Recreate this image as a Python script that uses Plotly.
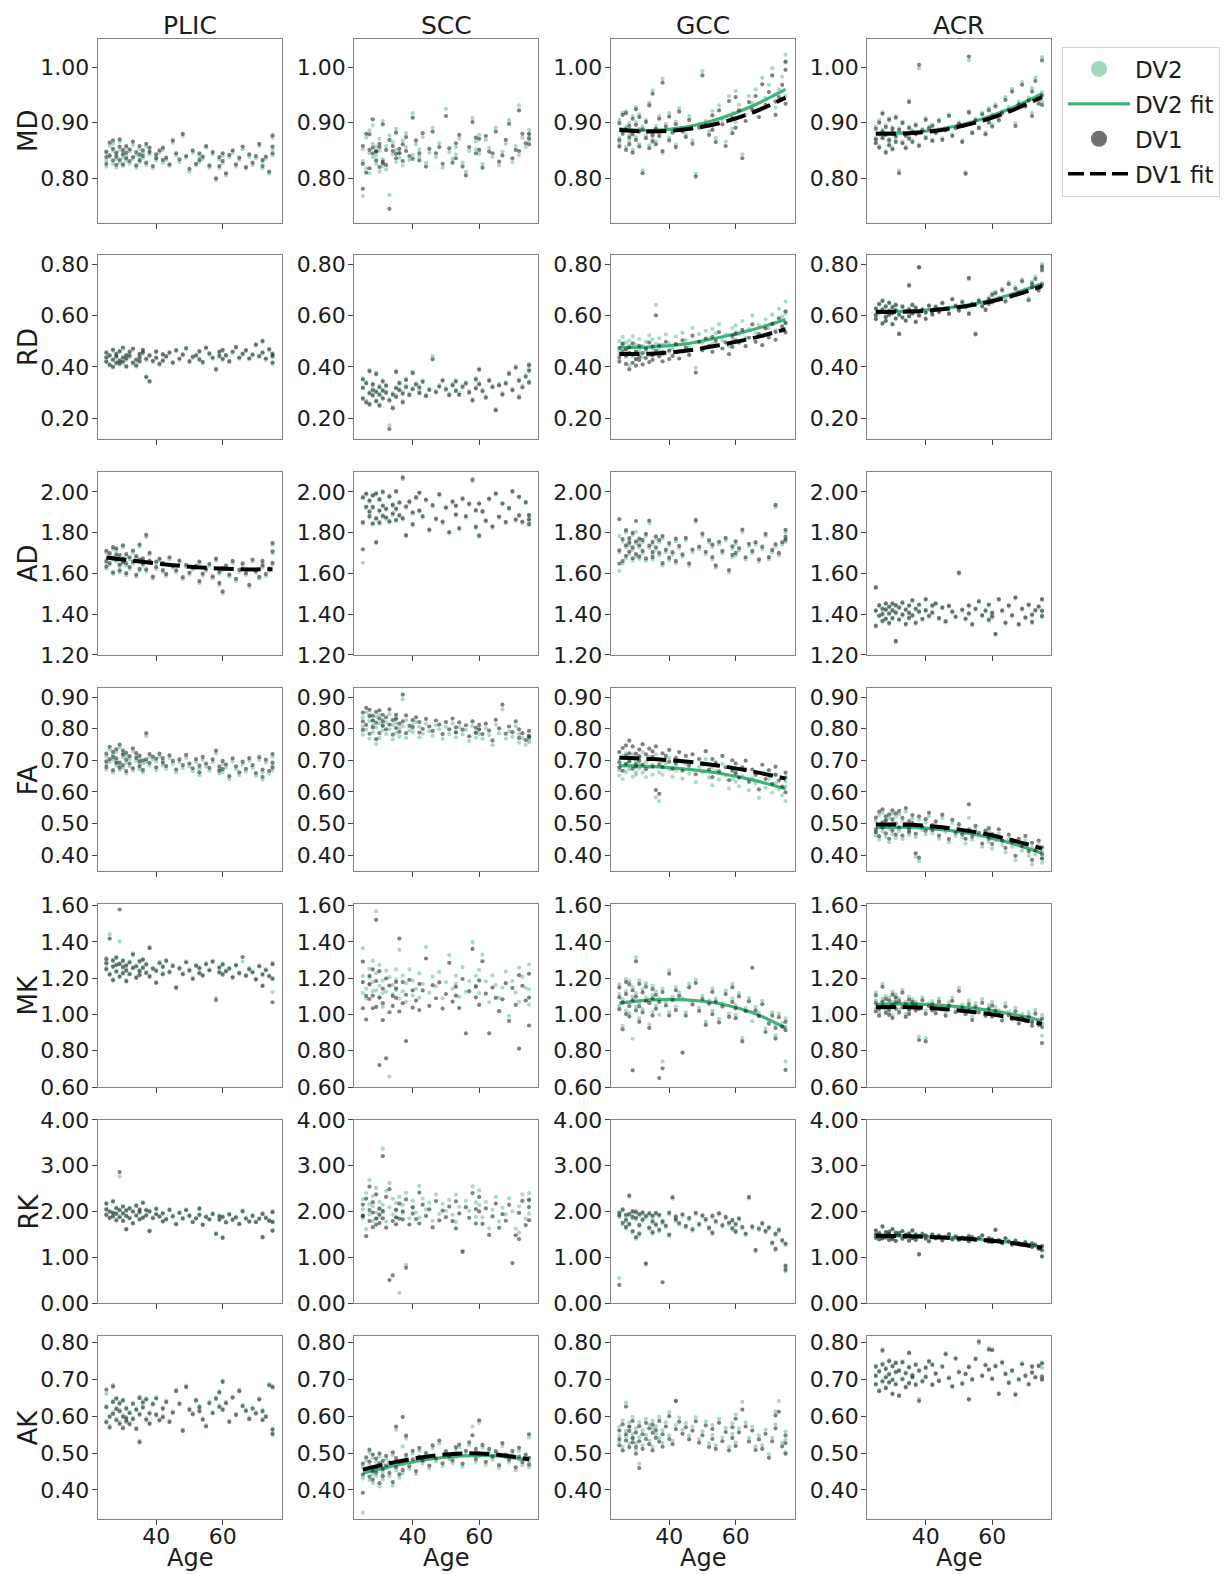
import plotly.graph_objects as go

# ---------------------------------------------------------------------------
# Subjects' ages (shared by every panel)
# ---------------------------------------------------------------------------
AGE = [
    25, 25, 25, 26, 26, 27, 27, 27, 28, 28,
    28, 29, 29, 29, 30, 30, 30, 31, 31, 31,
    32, 32, 33, 33, 34, 34, 35, 35, 35, 36,
    36, 37, 37, 38, 38, 39, 40, 40, 41, 42,
    42, 43, 44, 45, 46, 47, 48, 49, 50, 51,
    52, 53, 53, 54, 55, 56, 57, 58, 59, 59,
    60, 60, 61, 62, 63, 64, 65, 66, 67, 68,
    69, 70, 71, 72, 72, 73, 74, 75, 75, 75,
]

METRICS = ["MD", "RD", "AD", "FA", "MK", "RK", "AK"]
REGIONS = ["PLIC", "SCC", "GCC", "ACR"]
X_TICKS = [40, 60]

# Per-subject values, stored in thousandths of the metric's unit
# ---------------------------- MD ------------------------------------------
MD_PLIC_DV2 = [832,845,821,858,838,826,849,862,835,819, 843,851,828,866,837,822,846,855,831,840,
               848,826,860,835,842,819,853,838,829,845, 836,857,824,843,850,818,839,832,846,828,
               851,833,822,864,841,829,876,837,812,846, 823,840,829,835,855,819,843,796,834,818,
               827,841,805,838,846,821,833,852,817,839, 824,836,858,829,818,835,808,852,873,841]
MD_PLIC_DV1 = [838,848,826,864,841,832,853,868,839,824, 846,857,833,870,843,825,851,858,836,846,
               852,831,866,838,847,823,858,843,832,850, 840,862,828,847,855,822,843,836,850,833,
               855,837,825,868,845,834,880,840,817,850, 826,845,833,839,858,823,847,800,838,822,
               831,845,809,842,850,825,837,857,820,843, 828,840,862,833,822,839,812,857,877,845]
MD_SCC_DV2 = [768,852,831,873,818,845,886,809,862,838, 895,826,857,841,871,812,849,834,903,822,
              858,816,877,770,843,865,829,851,889,837, 846,868,823,856,881,833,842,917,861,839,
              852,874,828,846,891,838,863,819,925,847, 835,856,843,871,828,812,849,908,866,852,
              878,844,826,869,855,838,891,823,848,862, 905,829,858,842,931,873,856,868,887,879]
MD_SCC_DV1 = [781,858,826,880,810,851,879,818,855,845, 906,832,849,848,862,820,856,827,897,830,
              851,824,869,745,849,858,836,844,882,845, 853,861,831,849,874,840,835,909,868,832,
              845,881,821,853,884,845,856,826,912,854, 828,863,836,878,821,805,856,901,873,845,
              871,851,819,876,848,845,884,830,841,869, 898,836,851,849,922,880,863,861,880,872]
MD_GCC_DV2 = [872,905,861,918,884,893,856,921,878,899, 866,912,883,851,901,874,928,889,862,915,
              814,893,877,905,859,936,882,870,958,894, 866,912,881,979,845,898,873,917,887,902,
              861,926,890,879,912,868,808,897,993,903, 885,921,894,872,931,905,866,948,917,889,
              957,901,932,843,914,948,935,960,922,981, 944,968,998,951,927,960,983,1022,948,1008]
MD_GCC_DV1 = [868,899,857,914,880,888,851,917,873,894, 861,907,879,846,896,869,924,884,857,910,
              809,888,872,901,854,931,877,866,952,889, 861,907,876,972,849,893,868,911,882,897,
              856,920,884,874,905,862,803,891,985,896, 878,913,887,865,922,897,858,939,908,881,
              946,891,922,836,903,937,924,948,910,969, 932,955,985,938,914,946,968,1010,934,995]
MD_ACR_DV2 = [866,893,872,904,858,887,919,875,849,896, 881,862,908,871,892,855,885,912,868,878,
              814,890,866,902,879,857,893,940,874,886, 868,898,882,998,861,889,875,908,893,870,
              897,884,906,872,889,915,879,893,901,868, 811,1012,921,884,907,893,918,882,926,904,
              915,897,933,908,921,946,928,961,899,938, 973,934,945,962,918,981,940,1018,955,938]
MD_ACR_DV1 = [863,889,870,900,855,884,916,872,846,892, 878,859,905,868,889,852,882,909,865,875,
              809,887,863,899,876,854,890,937,871,883, 865,895,879,1004,858,886,872,905,890,867,
              894,881,903,869,886,912,876,890,898,865, 808,1019,918,881,904,890,915,879,922,900,
              911,893,929,904,917,941,923,956,894,933, 968,929,940,956,912,975,934,1012,949,932]
# ---------------------------- RD ------------------------------------------
RD_PLIC_DV2 = [432,418,451,405,440,425,463,397,436,412, 447,421,458,409,433,471,416,442,398,428,
               439,455,412,467,424,401,446,433,418,452, 462,358,427,341,441,419,456,432,408,445,
               421,437,452,413,461,428,444,469,418,435, 441,426,457,415,471,448,432,387,455,439,
               462,427,441,418,455,473,432,447,461,429, 444,483,438,452,497,428,465,447,412,438]
RD_PLIC_DV1 = [438,421,457,409,446,429,468,401,441,417, 452,426,462,414,438,476,421,447,403,433,
               444,460,417,472,429,406,451,438,423,457, 467,362,432,345,446,424,461,437,413,450,
               426,442,457,418,466,433,449,474,423,440, 446,431,462,420,476,453,437,392,460,444,
               467,432,446,423,460,478,437,452,466,434, 449,488,443,457,502,433,470,452,417,443]
RD_SCC_DV2 = [322,281,357,268,341,302,389,259,315,293, 336,271,308,378,254,327,296,349,283,312,
              305,331,275,172,298,245,322,386,289,314, 341,302,268,327,355,296,318,382,337,304,
              325,348,292,316,442,307,329,352,318,296, 334,312,349,297,328,341,306,275,357,322,
              395,338,311,286,352,327,236,334,298,341, 379,315,403,287,352,326,368,345,391,412]
RD_SCC_DV1 = [318,276,351,262,336,297,383,253,309,288, 331,266,302,372,249,321,291,343,277,307,
              299,326,269,158,292,239,317,380,283,309, 336,296,262,321,349,290,313,376,331,298,
              319,342,286,310,430,301,323,346,312,290, 328,306,343,291,322,335,300,269,351,316,
              389,332,305,280,346,321,231,328,292,335, 373,309,397,281,346,320,362,339,385,406]
RD_GCC_DV2 = [462,501,448,489,517,471,439,495,405,482, 503,442,476,519,458,487,431,466,509,454,
              481,437,498,462,523,446,472,507,455,491, 642,468,512,449,486,527,459,493,471,518,
              488,462,533,505,476,552,397,528,494,541, 512,548,489,531,567,503,526,481,552,509,
              537,562,528,579,514,548,601,532,563,519, 586,551,604,572,543,627,596,655,572,609]
RD_GCC_DV1 = [436,474,421,462,491,445,412,468,391,455, 476,416,449,492,431,460,405,440,482,427,
              454,410,471,435,495,419,445,480,428,463, 601,441,484,422,458,498,431,465,443,489,
              459,433,504,476,447,522,378,498,465,511, 482,517,459,501,536,472,495,450,521,478,
              504,529,495,545,481,514,566,498,528,485, 550,515,568,536,506,590,558,617,534,571]
RD_ACR_DV2 = [604,631,589,648,615,572,627,661,598,639, 582,621,653,607,569,636,612,645,591,624,
              607,532,638,596,619,583,722,628,601,645, 612,579,634,787,603,627,591,615,642,622,
              608,637,618,652,629,611,668,641,623,657, 638,741,612,649,532,664,641,627,671,652,
              688,659,694,671,706,662,731,684,712,695, 742,703,668,733,718,752,706,801,728,786]
RD_ACR_DV1 = [601,627,586,644,612,569,623,657,594,635, 579,618,649,603,566,632,609,641,588,620,
              603,528,634,592,616,580,717,624,597,641, 608,575,630,789,600,623,587,611,638,618,
              604,633,614,648,625,607,663,637,619,652, 633,747,607,644,527,658,636,622,665,646,
              681,652,687,664,699,655,723,677,704,688, 734,695,660,725,710,743,698,791,720,777]
# ---------------------------- AD ------------------------------------------
AD_PLIC_DV2 = [1652,1701,1623,1688,1641,1719,1667,1596,1683,1658, 1712,1634,1679,1605,1662,1728,1647,1591,1685,1639,
               1669,1621,1702,1648,1583,1675,1658,1731,1612,1664, 1637,1778,1609,1653,1692,1574,1648,1621,1663,1606,
               1642,1587,1669,1627,1605,1653,1571,1632,1594,1618, 1627,1552,1648,1589,1611,1636,1575,1662,1598,1543,
               1617,1501,1628,1584,1651,1563,1608,1639,1592,1534, 1658,1602,1573,1629,1651,1587,1613,1642,1698,1739]
AD_PLIC_DV1 = [1661,1711,1633,1699,1650,1729,1677,1605,1693,1668, 1722,1643,1690,1615,1672,1738,1656,1601,1695,1649,
               1679,1631,1712,1657,1593,1684,1668,1741,1622,1673, 1647,1789,1619,1663,1701,1584,1658,1631,1672,1616,
               1652,1597,1679,1637,1615,1663,1581,1642,1604,1628, 1637,1562,1658,1599,1621,1646,1585,1672,1608,1553,
               1627,1511,1638,1594,1661,1573,1618,1649,1602,1544, 1668,1612,1583,1639,1661,1597,1623,1652,1708,1749]
AD_SCC_DV2 = [1652,1968,1843,1921,1986,1874,1952,1897,1839,1978, 1919,1756,1864,1987,1902,1843,1958,1876,1927,1995,
              1868,1912,1849,1973,1887,1931,1856,1998,1912,1879, 1943,1864,2062,1922,1781,1947,1893,1835,1968,1902,
              1991,1874,1956,1808,1929,1862,1983,1847,1918,1796, 1947,1883,1927,1815,1962,1874,1936,2051,1822,1905,
              1938,1779,1899,1853,1961,1824,1987,1872,1938,1846, 1915,1998,1858,1879,1971,1847,1944,1836,1881,1859]
AD_SCC_DV1 = [1718,1974,1851,1928,1992,1881,1958,1904,1846,1984, 1926,1751,1871,1993,1909,1850,1964,1883,1933,2001,
              1875,1918,1856,1979,1894,1937,1863,2004,1918,1886, 1949,1871,2071,1929,1788,1953,1900,1842,1974,1909,
              1997,1881,1962,1815,1935,1869,1989,1854,1924,1803, 1953,1890,1933,1822,1968,1881,1942,2061,1829,1911,
              1944,1786,1905,1860,1967,1831,1993,1879,1944,1853, 1921,2004,1865,1886,1977,1854,1950,1843,1887,1866]
AD_GCC_DV2 = [1612,1783,1702,1756,1648,1801,1727,1674,1762,1695, 1739,1662,1788,1715,1683,1746,1804,1671,1727,1759,
              1698,1752,1661,1783,1724,1847,1693,1742,1668,1771, 1716,1689,1752,1638,1771,1704,1665,1737,1692,1758,
              1649,1723,1681,1762,1637,1705,1853,1719,1783,1694, 1751,1668,1729,1627,1743,1698,1762,1604,1721,1679,
              1745,1688,1712,1803,1667,1733,1698,1741,1657,1719, 1782,1668,1703,1731,1925,1688,1741,1768,1802,1753]
AD_GCC_DV1 = [1648,1866,1713,1768,1660,1812,1738,1686,1773,1707, 1751,1674,1799,1727,1695,1757,1857,1683,1738,1771,
              1710,1764,1673,1794,1736,1859,1705,1754,1680,1782, 1728,1701,1764,1650,1783,1716,1677,1749,1704,1770,
              1661,1735,1693,1774,1649,1717,1862,1731,1795,1706, 1763,1680,1741,1639,1755,1710,1774,1616,1733,1691,
              1757,1700,1724,1815,1679,1745,1710,1753,1669,1731, 1794,1680,1715,1743,1936,1700,1753,1780,1814,1765]
AD_ACR_DV2 = [1338,1412,1526,1387,1438,1362,1421,1395,1448,1372, 1417,1351,1432,1398,1446,1375,1413,1262,1439,1402,
              1427,1368,1451,1392,1417,1346,1438,1401,1376,1463, 1389,1421,1352,1442,1407,1371,1468,1413,1386,1437,
              1402,1448,1375,1427,1359,1436,1407,1382,1597,1416, 1372,1437,1398,1345,1421,1458,1389,1412,1367,1441,
              1401,1383,1298,1468,1412,1352,1437,1389,1476,1345, 1421,1378,1441,1392,1356,1414,1432,1385,1468,1411]
AD_ACR_DV1 = [1343,1418,1532,1393,1444,1367,1427,1401,1453,1378, 1423,1357,1437,1404,1452,1381,1419,1268,1444,1408,
              1433,1374,1457,1398,1423,1352,1443,1407,1382,1469, 1395,1427,1358,1447,1413,1377,1474,1419,1392,1443,
              1408,1453,1381,1433,1365,1441,1413,1388,1603,1422, 1378,1443,1404,1351,1427,1464,1395,1418,1373,1447,
              1407,1389,1303,1474,1418,1358,1443,1395,1482,1351, 1427,1384,1447,1398,1362,1420,1438,1391,1474,1417]
# ---------------------------- FA ------------------------------------------
FA_PLIC_DV2 = [688,712,671,734,695,661,718,702,683,726, 697,669,741,684,709,676,722,693,658,715,
               704,681,729,667,698,714,688,672,706,691, 662,777,694,711,683,703,669,696,712,684,
               698,673,707,689,662,694,676,708,681,666, 695,674,653,702,681,667,694,722,671,658,
               689,663,678,641,697,672,653,687,664,698, 676,651,701,662,639,693,658,711,684,668]
FA_PLIC_DV1 = [697,721,679,743,704,669,727,711,692,735, 706,677,750,693,718,685,731,702,666,724,
               713,690,738,675,707,723,697,681,715,700, 670,786,703,720,692,712,678,705,721,693,
               707,682,716,698,671,703,685,717,690,675, 704,683,662,711,690,676,703,731,680,667,
               698,672,687,650,706,681,662,696,673,707, 685,660,710,671,648,702,667,720,693,677]
FA_SCC_DV2 = [808,836,781,852,797,824,769,845,811,789, 826,752,838,804,817,771,843,795,829,808,
              783,821,798,846,766,812,829,787,817,801, 775,893,808,771,827,794,812,789,821,773,
              806,784,816,792,778,811,798,768,806,783, 817,789,773,805,782,796,761,808,788,772,
              783,797,768,801,779,748,813,786,861,769, 792,774,808,756,783,771,749,778,757,762]
FA_SCC_DV1 = [823,851,796,866,812,839,784,860,826,804, 841,767,853,819,832,786,858,810,844,823,
              798,836,813,861,781,827,844,802,832,816, 790,908,823,786,842,809,827,804,836,788,
              821,799,831,807,793,826,813,783,821,798, 832,804,788,820,797,811,776,823,803,787,
              798,812,783,816,794,763,828,801,876,784, 807,789,823,771,798,786,764,793,772,777]
FA_GCC_DV2 = [652,701,668,714,641,689,722,663,697,672, 708,648,683,719,662,696,655,709,674,688,
              726,661,694,647,712,678,703,655,686,719, 583,662,571,697,654,689,671,708,648,683,
              667,701,642,689,658,694,631,679,662,704, 645,678,621,667,639,688,652,611,674,641,
              632,663,618,651,672,605,644,627,581,659, 613,641,598,627,652,608,589,633,571,617]
FA_GCC_DV1 = [677,726,693,739,667,714,747,688,722,697, 762,673,708,744,687,721,680,734,699,713,
              751,686,719,672,737,703,728,680,711,744, 606,687,594,722,679,714,696,733,673,708,
              692,726,667,714,683,719,656,704,687,729, 671,704,647,693,665,714,678,637,700,667,
              659,690,645,678,699,632,671,654,608,686, 641,669,626,655,680,636,617,661,599,645]
FA_ACR_DV2 = [462,508,471,527,449,493,534,476,512,458, 499,441,518,483,531,467,502,454,521,489,
              476,529,451,507,488,538,463,497,472,516, 491,457,395,512,381,479,503,466,523,484,
              469,497,452,518,474,441,502,461,488,456, 437,472,518,449,483,461,427,468,442,476,
              453,421,447,468,432,409,451,427,384,438, 414,447,398,425,371,402,432,389,411,376]
FA_ACR_DV1 = [473,519,482,538,460,504,545,487,523,469, 510,452,529,494,542,478,513,465,532,500,
              487,540,462,518,499,549,474,508,483,527, 502,468,406,523,392,490,514,477,534,495,
              479,507,462,528,484,451,512,471,498,466, 452,482,561,459,493,471,437,478,452,486,
              467,435,461,482,446,423,465,441,398,452, 428,461,412,439,385,416,446,403,425,390]
# ---------------------------- MK ------------------------------------------
MK_PLIC_DV2 = [1287,1256,1311,1226,1442,1268,1195,1302,1241,1278, 1319,1402,1283,1214,1266,1301,1232,1189,1275,1248,
               1293,1227,1262,1336,1208,1271,1244,1298,1223,1262, 1307,1235,1281,1372,1214,1258,1179,1246,1289,1227,
               1268,1301,1239,1273,1152,1259,1227,1293,1248,1201, 1274,1232,1261,1219,1283,1248,1297,1093,1237,1264,
               1226,1281,1243,1258,1209,1276,1232,1291,1218,1255, 1237,1198,1271,1225,1162,1249,1216,1284,1123,1201]
MK_PLIC_DV1 = [1281,1248,1304,1219,1418,1262,1188,1295,1235,1271, 1312,1578,1277,1207,1259,1294,1226,1182,1269,1241,
               1286,1221,1255,1329,1201,1264,1238,1291,1216,1256, 1301,1228,1274,1365,1208,1251,1173,1239,1282,1221,
               1261,1294,1232,1266,1146,1252,1221,1286,1241,1195, 1267,1226,1254,1213,1276,1242,1290,1079,1231,1257,
               1219,1274,1237,1251,1203,1269,1226,1316,1212,1248, 1231,1192,1264,1219,1156,1243,1210,1277,1067,1195]
MK_SCC_DV2 = [1118,1212,1365,1142,1087,1251,1164,1203,1128,1296, 1179,1568,1132,1227,1094,1158,1273,1118,1186,1042,
              1241,1126,1205,658,1163,1112,1248,1134,1192,1087, 1356,1128,1214,1069,1172,1248,1103,1186,1141,1226,
              1093,1168,1372,1119,1208,1154,1234,1089,1178,1327, 1142,1213,1168,1098,1261,1125,1184,1398,1213,1157,
              1246,1118,1329,1182,1067,1214,1162,1093,1148,1236, 992,1183,1121,1069,1258,1207,1147,1275,1054,1138]
MK_SCC_DV1 = [1034,1178,1291,1102,972,1213,1085,1167,1034,1248, 1103,1521,1041,1184,721,1093,1238,1062,1142,968,
              1198,758,1159,1012,1101,1047,1179,1091,1144,1016, 1418,1062,1178,853,1108,1191,1037,1132,1076,1168,
              1024,1132,1308,1047,1161,1089,1176,1032,1112,1284, 1071,1152,1103,1035,1195,895,1128,1361,1153,1094,
              1187,1052,1293,1114,896,1148,1091,1018,1083,1172, 964,1146,1052,811,1216,1158,1076,1224,939,1093]
MK_GCC_DV2 = [1112,1048,1165,937,1083,1196,1021,1129,1064,1183, 1007,1098,866,1152,1314,1041,1117,978,1187,1063,
              1139,1029,1094,1172,944,1081,1158,1013,1107,1049, 1126,998,1088,1142,741,1067,1243,1013,1098,1152,
              1043,1121,1087,1012,1168,1073,1192,1038,1104,961, 1078,1143,1019,1089,975,1062,1131,1004,1087,1168,
              1052,998,1118,869,1037,1091,963,1042,1009,1075, 923,968,1012,944,885,1004,952,932,741,978]
MK_GCC_DV1 = [1094,1029,1148,918,1066,1178,1002,1112,1045,1165, 988,1079,692,1133,1293,1022,1098,959,1168,1044,
              1121,1011,1075,1153,925,1062,1139,994,1088,1031, 1107,649,1069,1123,703,1049,1224,994,1079,1133,
              1024,1102,789,993,1149,1054,1173,1019,1085,942, 1059,1124,1001,1071,956,1043,1112,986,1069,1149,
              1033,979,1099,851,1018,1072,1257,1023,991,1056, 903,949,993,925,867,985,933,913,694,959]
MK_ACR_DV2 = [1032,1078,1121,1046,1009,1168,1063,1087,1024,1101, 1058,1013,1092,1041,1125,1069,996,1083,1047,1110,
              1027,1089,1054,1136,1002,1071,1043,1098,1018,1063, 1085,1037,1072,878,1046,1094,1019,869,1061,1038,
              1073,1025,1089,1047,1012,1068,1094,1031,1148,1056, 1021,1077,1042,989,1063,1031,1084,1012,1052,1027,
              1069,1008,1041,1022,987,1064,1016,995,1038,971, 1003,986,1011,958,979,1025,962,997,883,951]
MK_ACR_DV1 = [1016,1062,1105,1030,993,1152,1047,1071,1008,1085, 1042,997,1076,1025,1109,1053,980,1067,1031,1094,
              1011,1073,1038,1120,986,1055,1027,1082,1002,1047, 1069,1021,1056,859,1030,1078,1003,851,1045,1022,
              1055,1006,1070,1028,993,1049,1075,1012,1129,1037, 1001,1057,1022,969,1043,1011,1064,992,1032,1007,
              1048,987,1020,1001,966,1043,995,974,1017,950, 982,965,990,937,958,1004,941,976,842,930]
# ---------------------------- RK ------------------------------------------
RK_PLIC_DV2 = [2061,1942,2187,1875,2014,2236,1908,1986,2092,1823, 1967,2763,1894,2048,1812,2125,1973,1628,2039,1918,
               2084,1871,2012,1759,2143,1926,2057,1843,1998,2207, 1882,2046,1931,1589,2018,1872,1954,2075,1903,1798,
               1976,1847,2052,1911,1738,1986,1862,2047,1923,1784, 1864,1941,2078,1726,1897,1842,1963,1528,1915,1837,
               1442,1896,1781,1952,1836,1887,1743,2023,1862,1795, 1921,1784,1856,1963,1452,1878,1813,2007,1598,1786]
RK_PLIC_DV1 = [2042,1921,2168,1856,1994,2217,1889,1967,2071,1804, 1948,2861,1875,2027,1793,2104,1954,1609,2018,1899,
               2063,1852,1993,1740,2122,1907,2036,1824,1979,2186, 1863,2025,1912,1570,1997,1853,1935,2054,1884,1779,
               1955,1828,2031,1892,1719,1965,1843,2026,1904,1765, 1845,1922,2057,1707,1878,1823,1942,1509,1896,1818,
               1423,1877,1762,1931,1817,1868,1724,2002,1843,1776, 1900,1765,1837,1942,1433,1857,1794,1986,1579,1767]
RK_SCC_DV2 = [1853,2271,2048,1617,2402,1936,2159,2683,1792,2114, 2336,1978,2515,1841,2208,2062,1893,3372,2147,1986,
              2453,1782,2091,2624,1938,2276,2012,1867,2188,223, 2318,1962,2142,834,2407,1851,2236,2091,1978,2559,
              1873,2284,2046,2193,1798,2372,1947,2163,2014,2252, 1928,2367,1773,2104,1149,2235,2012,2547,1881,2198,
              2143,2461,1872,2209,1632,2037,2318,1784,2085,1937, 2288,2006,1628,1543,2113,2372,1847,2401,2237,1953]
RK_SCC_DV1 = [1912,2152,1897,1462,2281,1793,2031,2544,1658,1978, 2203,1846,2372,1713,2062,1935,1748,3208,2013,1851,
              2318,1647,502,2487,1793,604,1874,1721,2042,1845, 2171,1828,2005,771,2263,1716,2092,1953,1834,2413,
              1738,2148,1903,2047,1652,2228,1806,2021,1876,2107, 1792,2223,1631,1958,1117,2094,1863,2402,1738,2054,
              2001,2318,1729,2068,1488,1893,2174,1643,1942,1798, 2146,874,1482,1397,1968,2231,1703,2258,2096,1809]
RK_GCC_DV2 = [1879,548,1942,1716,2012,1628,1893,1784,2317,1695, 1912,1538,1847,1972,1403,1826,1961,1672,1908,1485,
              1791,1943,833,1868,1614,1927,1752,1876,1513,1934, 1684,1893,1568,1802,1741,1657,1938,1462,2276,1789,
              1856,1713,1902,1648,1824,1578,1937,1692,1881,1796, 1612,1873,1504,1757,1928,1668,1845,1719,1603,1781,
              1697,1534,1816,1628,1484,2282,1639,1127,1594,1712, 1543,1618,1287,1479,1152,1568,1342,784,1265,693]
RK_GCC_DV1 = [1912,398,1978,1752,2048,1663,1929,1820,2352,1731, 1948,1574,1883,2008,1439,1862,1997,1708,1944,1521,
              1827,1979,869,1904,1650,1963,1788,1912,1549,1970, 1720,1929,1604,455,1777,1693,1974,1498,2312,1825,
              1892,1749,1938,1684,1860,1614,1973,1728,1917,1832, 1648,1909,1540,1793,1964,1704,1881,1755,1639,1817,
              1733,1570,1852,1664,1520,2318,1675,1163,1630,1748, 1579,1654,1323,1515,1188,1604,1378,820,1301,729]
RK_ACR_DV2 = [1512,1438,1596,1402,1537,1463,1683,1421,1558,1476, 1443,1571,1389,1518,1452,1624,1407,1493,1546,1368,
              1487,1539,1416,1582,1451,1503,1372,1528,1467,1594, 1431,1508,1392,1053,1476,1521,1418,1487,1362,1453,
              1509,1426,1482,1378,1447,1513,1401,1463,1392,1438, 1419,1472,1359,1448,1392,1431,1487,1374,1426,1351,
              1397,1342,1609,1383,1318,1427,1356,1289,1372,1314, 1287,1341,1258,1314,1236,1282,1197,1253,1166,1029]
RK_ACR_DV1 = [1498,1425,1583,1389,1524,1450,1669,1408,1545,1463, 1430,1558,1376,1505,1439,1611,1394,1480,1533,1355,
              1474,1526,1403,1569,1438,1490,1359,1515,1454,1581, 1418,1495,1379,1071,1463,1508,1405,1474,1349,1440,
              1496,1413,1469,1365,1434,1500,1388,1450,1379,1425, 1406,1459,1346,1435,1379,1418,1474,1361,1413,1338,
              1384,1329,1596,1370,1305,1414,1343,1276,1359,1301, 1274,1328,1245,1301,1223,1269,1184,1240,1153,1016]
# ---------------------------- AK ------------------------------------------
AK_PLIC_DV2 = [587,628,661,602,574,642,611,685,593,623, 651,584,617,638,571,603,646,589,624,598,
               612,582,637,596,569,621,653,533,608,641, 627,594,649,611,583,636,607,652,592,624,
               601,642,588,613,672,637,564,683,621,609, 646,628,617,594,576,639,612,651,668,629,
               697,621,639,588,654,607,672,631,618,596, 624,611,649,593,617,602,688,567,549,682]
AK_PLIC_DV1 = [583,624,672,598,569,638,606,680,589,619, 647,579,613,634,567,598,642,585,620,594,
               608,578,633,592,565,617,649,529,604,637, 623,590,645,607,579,632,603,648,588,620,
               597,638,584,609,668,633,560,679,617,605, 642,624,613,590,572,635,608,647,664,625,
               693,617,635,584,650,603,668,627,614,592, 620,607,645,589,613,598,684,563,552,678]
AK_SCC_DV2 = [338,462,431,479,448,501,427,468,442,487, 419,452,476,438,463,409,491,447,428,471,
              458,483,437,466,412,494,563,452,478,433, 469,518,446,539,487,456,475,498,443,482,
              506,471,492,458,513,477,526,464,497,483, 472,508,489,515,463,498,521,572,476,503,
              582,491,514,468,503,482,497,459,519,488, 474,498,453,482,506,467,488,542,461,479]
AK_SCC_DV1 = [392,471,441,488,457,509,436,477,451,496, 428,461,485,447,472,418,499,456,437,479,
              466,492,446,474,421,502,572,461,486,442, 477,598,454,547,495,464,483,506,451,490,
              514,479,500,466,521,485,534,472,505,491, 480,516,497,523,471,506,529,548,484,511,
              589,499,522,476,511,490,505,467,527,496, 482,506,461,490,514,475,496,551,469,487]
AK_GCC_DV2 = [548,572,531,589,517,637,561,544,583,526, 571,539,598,552,508,567,526,584,471,543,
              562,521,593,549,578,534,566,517,588,552, 573,541,598,527,562,583,548,611,534,576,
              642,596,563,581,547,572,597,538,559,586, 527,549,576,521,593,542,568,517,581,552,
              604,529,567,639,583,541,572,518,548,521, 563,497,542,578,613,641,528,559,503,537]
AK_GCC_DV1 = [538,561,521,578,507,626,551,534,572,516, 560,529,587,541,498,556,516,573,459,532,
              551,511,582,538,567,524,555,507,577,541, 562,531,587,517,551,572,538,600,524,565,
              641,585,552,570,537,561,586,528,548,575, 516,538,565,511,582,532,557,507,570,541,
              593,519,556,618,572,531,561,508,537,511, 552,487,532,567,602,612,518,548,498,527]
AK_ACR_DV2 = [689,712,738,671,724,782,697,743,708,679, 731,694,752,716,663,738,701,722,689,747,
              658,726,703,749,681,719,774,692,735,708, 713,688,742,647,726,697,734,709,751,688,
              742,718,698,737,771,706,683,759,722,691, 717,648,736,702,758,798,712,741,785,729,
              782,704,738,663,748,717,693,726,661,702, 744,712,689,737,721,708,739,702,747,731]
AK_ACR_DV1 = [686,709,734,668,721,778,694,740,705,676, 728,691,749,713,660,735,698,719,686,744,
              655,723,700,746,678,716,771,689,732,705, 710,685,739,641,723,694,731,706,748,685,
              739,715,695,734,768,703,680,756,719,688, 714,645,733,699,755,803,709,738,781,726,
              779,701,735,660,745,714,690,723,658,699, 741,709,686,734,718,705,736,699,743,708]

# Quadratic age fits, sampled at FIT_AGE (thousandths)
FIT_AGE = [25, 35, 45, 55, 65, 75]
MD_GCC_DV2_FIT = [889, 886, 892, 907, 930, 960]
MD_GCC_DV1_FIT = [887, 884, 888, 899, 918, 945]
MD_ACR_DV2_FIT = [881, 882, 889, 903, 924, 952]
MD_ACR_DV1_FIT = [880, 881, 887, 900, 920, 946]
RD_GCC_DV2_FIT = [477, 478, 490, 515, 545, 585]
RD_GCC_DV1_FIT = [451, 452, 463, 485, 512, 547]
RD_ACR_DV2_FIT = [617, 618, 628, 647, 680, 724]
RD_ACR_DV1_FIT = [615, 616, 625, 643, 673, 715]
AD_PLIC_DV1_FIT = [1678, 1658, 1640, 1627, 1620, 1620]
FA_GCC_DV2_FIT = [683, 680, 672, 659, 638, 610]
FA_GCC_DV1_FIT = [708, 704, 696, 683, 665, 642]
FA_ACR_DV2_FIT = [487, 488, 481, 466, 440, 406]
FA_ACR_DV1_FIT = [497, 496, 488, 473, 450, 421]
MK_GCC_DV2_FIT = [1062, 1080, 1080, 1060, 1010, 925]
MK_ACR_DV2_FIT = [1055, 1058, 1050, 1033, 1005, 965]
MK_ACR_DV1_FIT = [1040, 1040, 1030, 1012, 985, 948]
RK_ACR_DV2_FIT = [1480, 1470, 1440, 1400, 1330, 1220]
RK_ACR_DV1_FIT = [1470, 1460, 1430, 1390, 1320, 1210]
AK_SCC_DV2_FIT = [445, 467, 483, 492, 492, 481]
AK_SCC_DV1_FIT = [455, 476, 491, 499, 496, 483]

# Axis limits and ticks for each metric row
X_RANGE = [22.4, 77.7]
Y_RANGE = {"MD": [0.72, 1.05], "RD": [0.12, 0.835], "AD": [1.1995, 2.1],
           "FA": [0.35, 0.93], "MK": [0.5995, 1.61], "RK": [-0.002, 4.002],
           "AK": [0.32, 0.818]}
Y_TICKS = {"MD": [0.8, 0.9, 1.0], "RD": [0.2, 0.4, 0.6, 0.8],
           "AD": [1.2, 1.4, 1.6, 1.8, 2.0], "FA": [0.4, 0.5, 0.6, 0.7, 0.8, 0.9],
           "MK": [0.6, 0.8, 1.0, 1.2, 1.4, 1.6], "RK": [0, 1, 2, 3, 4],
           "AK": [0.4, 0.5, 0.6, 0.7, 0.8]}

POINTS = {
    ("MD", "PLIC"): (MD_PLIC_DV2, MD_PLIC_DV1), ("MD", "SCC"): (MD_SCC_DV2, MD_SCC_DV1),
    ("MD", "GCC"): (MD_GCC_DV2, MD_GCC_DV1), ("MD", "ACR"): (MD_ACR_DV2, MD_ACR_DV1),
    ("RD", "PLIC"): (RD_PLIC_DV2, RD_PLIC_DV1), ("RD", "SCC"): (RD_SCC_DV2, RD_SCC_DV1),
    ("RD", "GCC"): (RD_GCC_DV2, RD_GCC_DV1), ("RD", "ACR"): (RD_ACR_DV2, RD_ACR_DV1),
    ("AD", "PLIC"): (AD_PLIC_DV2, AD_PLIC_DV1), ("AD", "SCC"): (AD_SCC_DV2, AD_SCC_DV1),
    ("AD", "GCC"): (AD_GCC_DV2, AD_GCC_DV1), ("AD", "ACR"): (AD_ACR_DV2, AD_ACR_DV1),
    ("FA", "PLIC"): (FA_PLIC_DV2, FA_PLIC_DV1), ("FA", "SCC"): (FA_SCC_DV2, FA_SCC_DV1),
    ("FA", "GCC"): (FA_GCC_DV2, FA_GCC_DV1), ("FA", "ACR"): (FA_ACR_DV2, FA_ACR_DV1),
    ("MK", "PLIC"): (MK_PLIC_DV2, MK_PLIC_DV1), ("MK", "SCC"): (MK_SCC_DV2, MK_SCC_DV1),
    ("MK", "GCC"): (MK_GCC_DV2, MK_GCC_DV1), ("MK", "ACR"): (MK_ACR_DV2, MK_ACR_DV1),
    ("RK", "PLIC"): (RK_PLIC_DV2, RK_PLIC_DV1), ("RK", "SCC"): (RK_SCC_DV2, RK_SCC_DV1),
    ("RK", "GCC"): (RK_GCC_DV2, RK_GCC_DV1), ("RK", "ACR"): (RK_ACR_DV2, RK_ACR_DV1),
    ("AK", "PLIC"): (AK_PLIC_DV2, AK_PLIC_DV1), ("AK", "SCC"): (AK_SCC_DV2, AK_SCC_DV1),
    ("AK", "GCC"): (AK_GCC_DV2, AK_GCC_DV1), ("AK", "ACR"): (AK_ACR_DV2, AK_ACR_DV1),
}
FITS = {
    ("MD", "GCC"): (MD_GCC_DV2_FIT, MD_GCC_DV1_FIT),
    ("MD", "ACR"): (MD_ACR_DV2_FIT, MD_ACR_DV1_FIT),
    ("RD", "GCC"): (RD_GCC_DV2_FIT, RD_GCC_DV1_FIT),
    ("RD", "ACR"): (RD_ACR_DV2_FIT, RD_ACR_DV1_FIT),
    ("AD", "PLIC"): (None, AD_PLIC_DV1_FIT),
    ("FA", "GCC"): (FA_GCC_DV2_FIT, FA_GCC_DV1_FIT),
    ("FA", "ACR"): (FA_ACR_DV2_FIT, FA_ACR_DV1_FIT),
    ("MK", "GCC"): (MK_GCC_DV2_FIT, None),
    ("MK", "ACR"): (MK_ACR_DV2_FIT, MK_ACR_DV1_FIT),
    ("RK", "ACR"): (RK_ACR_DV2_FIT, RK_ACR_DV1_FIT),
    ("AK", "SCC"): (AK_SCC_DV2_FIT, AK_SCC_DV1_FIT),
}

for key, (a, b) in POINTS.items():
    assert len(a) == len(AGE) and len(b) == len(AGE), key

# ---------------------------------------------------------------------------
# Styling
# ---------------------------------------------------------------------------
W, H = 1224, 1574
FONT = "DejaVu Sans"
TXT = "#1c1c1c"
DV2_PT = "rgba(110,198,156,0.6)"
DV1_PT = "rgba(25,25,25,0.55)"
DV2_FIT = "#3db37a"
DV1_FIT = "#000000"
FRAME = "#858585"

PANEL_LEFT, COL_STEP, PANEL_W = 97.7, 256.5, 183.8
PANEL_TOP, ROW_STEP, PANEL_H = 39.3, 216.1, 183.4


def milli(vals):
    return [v / 1000.0 for v in vals]


fig = go.Figure()
axes = {}
k = 0
for r, metric in enumerate(METRICS):
    for c, region in enumerate(REGIONS):
        k += 1
        sfx = "" if k == 1 else str(k)
        xa, ya = "x" + sfx, "y" + sfx
        dv2, dv1 = POINTS[(metric, region)]
        fit2, fit1 = FITS.get((metric, region), (None, None))

        fig.add_trace(go.Scatter(x=AGE, y=milli(dv2), mode="markers", xaxis=xa, yaxis=ya,
                                 marker=dict(size=4.2, color=DV2_PT, line=dict(width=0)),
                                 showlegend=False, hoverinfo="skip"))
        if fit2 is not None:
            fig.add_trace(go.Scatter(x=FIT_AGE, y=milli(fit2), mode="lines", xaxis=xa, yaxis=ya,
                                     line=dict(color=DV2_FIT, width=3.2, shape="spline"),
                                     showlegend=False, hoverinfo="skip"))
        fig.add_trace(go.Scatter(x=AGE, y=milli(dv1), mode="markers", xaxis=xa, yaxis=ya,
                                 marker=dict(size=4.2, color=DV1_PT, line=dict(width=0)),
                                 showlegend=False, hoverinfo="skip"))
        if fit1 is not None:
            fig.add_trace(go.Scatter(x=FIT_AGE, y=milli(fit1), mode="lines", xaxis=xa, yaxis=ya,
                                     line=dict(color=DV1_FIT, width=4, dash="20px,7px",
                                               shape="spline"),
                                     showlegend=False, hoverinfo="skip"))

        left = PANEL_LEFT + c * COL_STEP
        top = PANEL_TOP + r * ROW_STEP
        common = dict(showline=True, mirror=True, linecolor=FRAME, linewidth=1.3,
                      showgrid=False, zeroline=False, ticks="outside", ticklen=5,
                      tickwidth=1.2, tickcolor="#444444", automargin=False,
                      tickfont=dict(family=FONT, size=22, color=TXT))
        axes["xaxis" + sfx] = dict(domain=[left / W, (left + PANEL_W) / W], anchor=ya,
                                   range=X_RANGE, tickvals=X_TICKS, ticklabelstandoff=-8,
                                   showticklabels=(r == len(METRICS) - 1), **common)
        axes["yaxis" + sfx] = dict(domain=[1 - (top + PANEL_H) / H, 1 - top / H], anchor=xa,
                                   range=Y_RANGE[metric], tickvals=Y_TICKS[metric],
                                   ticklabelstandoff=-2, tickformat=".2f", **common)

# Legend entries
legend_items = [
    dict(name="DV2", mode="markers", marker=dict(size=16, color="#9fd8bb")),
    dict(name="DV2 fit", mode="lines", line=dict(color=DV2_FIT, width=3.2)),
    dict(name="DV1", mode="markers", marker=dict(size=16, color="#707070")),
    dict(name="DV1 fit", mode="lines", line=dict(color=DV1_FIT, width=3.5, dash="16px,6px")),
]
for i, item in enumerate(legend_items):
    fig.add_trace(go.Scatter(x=[None], y=[None], xaxis="x", yaxis="y",
                             legendgroup=f"g{i}", showlegend=True, **item))

annotations = []
for c, region in enumerate(REGIONS):
    cx = (PANEL_LEFT + c * COL_STEP + PANEL_W / 2) / W
    annotations.append(dict(text=region, x=cx, y=1 - 26 / H, xref="paper", yref="paper",
                            showarrow=False, xanchor="center", yanchor="middle",
                            font=dict(family=FONT, size=25, color=TXT)))
    annotations.append(dict(text="Age", x=cx, y=1 - 1558 / H, xref="paper", yref="paper",
                            showarrow=False, xanchor="center", yanchor="middle",
                            font=dict(family=FONT, size=24, color=TXT)))
for r, metric in enumerate(METRICS):
    cy = 1 - (PANEL_TOP + r * ROW_STEP + PANEL_H / 2) / H
    annotations.append(dict(text=metric, x=28 / W, y=cy, xref="paper", yref="paper",
                            showarrow=False, xanchor="center", yanchor="middle", textangle=-90,
                            font=dict(family=FONT, size=26, color=TXT)))

fig.update_layout(
    width=W, height=H, autosize=False,
    margin=dict(l=0, r=0, t=0, b=0, pad=0, autoexpand=False),
    paper_bgcolor="white", plot_bgcolor="white",
    font=dict(family=FONT, color=TXT),
    annotations=annotations,
    legend=dict(x=1062 / W, y=1 - 46.5 / H, xanchor="left", yanchor="top",
                bgcolor="white", bordercolor="#d4d4d4", borderwidth=1,
                font=dict(family=FONT, size=23, color=TXT),
                tracegroupgap=2, itemwidth=62),
    **axes,
)

fig.write_html("out.html")
